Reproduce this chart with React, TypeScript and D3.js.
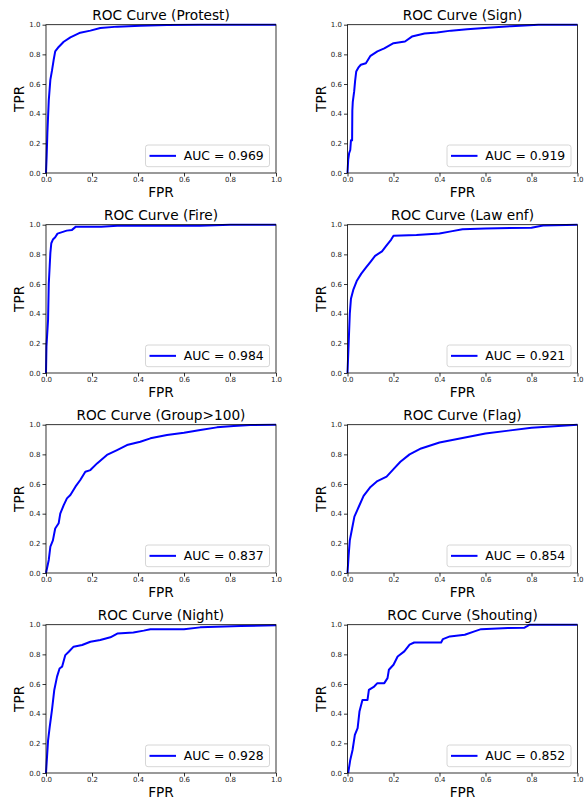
import React, { useEffect, useRef } from 'react';
import * as d3 from 'd3';

type Pt = [number, number];

const titles = ['Protest', 'Sign', 'Fire', 'Law enf', 'Group>100', 'Flag', 'Night', 'Shouting'];
const aucs = ['0.969', '0.919', '0.984', '0.921', '0.837', '0.854', '0.928', '0.852'];

const protest: Pt[] = [[0, 0], [0.003, 0.12], [0.006, 0.27], [0.012, 0.49], [0.019, 0.63], [0.026, 0.69], [0.033, 0.76],
  [0.04, 0.82], [0.055, 0.85], [0.077, 0.885], [0.106, 0.915], [0.149, 0.946], [0.193, 0.96], [0.236, 0.978],
  [0.31, 0.987], [0.41, 0.993], [0.526, 0.998], [0.67, 1], [1, 1]];
const sign: Pt[] = [[0, 0], [0.003, 0.088], [0.007, 0.133], [0.012, 0.155], [0.015, 0.22], [0.02, 0.22], [0.021, 0.42],
  [0.023, 0.48], [0.029, 0.55], [0.033, 0.62], [0.038, 0.685], [0.047, 0.71], [0.058, 0.73], [0.08, 0.74],
  [0.1, 0.79], [0.13, 0.82], [0.16, 0.84], [0.2, 0.875], [0.25, 0.887], [0.28, 0.92], [0.335, 0.94],
  [0.39, 0.948], [0.45, 0.96], [0.52, 0.97], [0.61, 0.98], [0.71, 0.99], [0.83, 1], [1, 1]];
const fire: Pt[] = [[0, 0], [0.002, 0.18], [0.009, 0.36], [0.012, 0.6], [0.016, 0.72], [0.019, 0.81], [0.023, 0.875],
  [0.03, 0.9], [0.04, 0.915], [0.05, 0.94], [0.07, 0.95], [0.09, 0.96], [0.113, 0.965], [0.13, 0.987],
  [0.24, 0.987], [0.31, 0.993], [0.67, 0.993], [0.8, 1], [1, 1]];
const lawEnf: Pt[] = [[0, 0], [0.005, 0.2], [0.01, 0.4], [0.015, 0.5], [0.025, 0.56], [0.04, 0.62], [0.06, 0.67],
  [0.08, 0.71], [0.1, 0.75], [0.12, 0.79], [0.15, 0.82], [0.17, 0.86], [0.19, 0.9], [0.2, 0.925], [0.3, 0.93],
  [0.4, 0.94], [0.45, 0.955], [0.5, 0.97], [0.6, 0.975], [0.8, 0.98], [0.85, 0.995], [1, 1]];
const group100: Pt[] = [[0, 0], [0.012, 0.088], [0.019, 0.178], [0.03, 0.22], [0.04, 0.3], [0.055, 0.335], [0.062, 0.4],
  [0.077, 0.458], [0.091, 0.503], [0.106, 0.526], [0.128, 0.582], [0.149, 0.627], [0.171, 0.683], [0.193, 0.694],
  [0.222, 0.739], [0.265, 0.796], [0.309, 0.829], [0.352, 0.863], [0.41, 0.885], [0.454, 0.908], [0.526, 0.93],
  [0.6, 0.946], [0.671, 0.964], [0.743, 0.982], [0.816, 0.991], [0.888, 0.998], [1, 1]];
const flag: Pt[] = [[0, 0], [0.005, 0.12], [0.01, 0.22], [0.02, 0.3], [0.03, 0.38], [0.05, 0.45], [0.07, 0.52],
  [0.1, 0.58], [0.13, 0.62], [0.17, 0.65], [0.2, 0.7], [0.23, 0.75], [0.27, 0.8], [0.32, 0.84], [0.4, 0.88],
  [0.5, 0.91], [0.6, 0.94], [0.7, 0.96], [0.8, 0.98], [0.9, 0.99], [1, 1]];
const night: Pt[] = [[0, 0], [0.009, 0.22], [0.016, 0.31], [0.026, 0.425], [0.036, 0.56], [0.048, 0.65], [0.059, 0.705],
  [0.07, 0.717], [0.084, 0.795], [0.099, 0.818], [0.12, 0.852], [0.157, 0.863], [0.193, 0.885], [0.236, 0.897],
  [0.28, 0.915], [0.31, 0.94], [0.38, 0.948], [0.425, 0.96], [0.454, 0.97], [0.6, 0.97], [0.67, 0.982],
  [0.845, 0.991], [1, 0.996]];
const shouting: Pt[] = [[0.003, 0], [0.012, 0.088], [0.022, 0.155], [0.032, 0.257], [0.044, 0.302], [0.052, 0.414],
  [0.065, 0.493], [0.087, 0.493], [0.093, 0.56], [0.116, 0.583], [0.13, 0.606], [0.16, 0.606], [0.174, 0.64],
  [0.18, 0.696], [0.2, 0.73], [0.218, 0.786], [0.247, 0.82], [0.27, 0.865], [0.29, 0.88], [0.407, 0.88],
  [0.415, 0.903], [0.445, 0.921], [0.51, 0.932], [0.552, 0.955], [0.581, 0.97], [0.698, 0.977], [0.77, 0.98],
  [0.792, 1], [1, 1]];

const curves = [protest, sign, fire, lawEnf, group100, flag, night, shouting];
const ticks = [0, 0.2, 0.4, 0.6, 0.8, 1.0];

export default function App() {
  const ref = useRef<SVGSVGElement>(null);

  useEffect(() => {
    const svg = d3.select(ref.current);
    svg.selectAll('*').remove();
    const font = 'DejaVu Sans, sans-serif';
    const w = 230, h = 148.3;
    const lefts = [46, 347.5];

    curves.forEach((data, i) => {
      const col = i % 2, row = Math.floor(i / 2);
      const left = lefts[col], top = 24.7 + row * 200;
      const x = d3.scaleLinear().domain([0, 1]).range([left, left + w]);
      const y = d3.scaleLinear().domain([0, 1]).range([top + h, top]);
      const g = svg.append('g');

      // curve
      g.append('path')
        .datum(data)
        .attr('fill', 'none')
        .attr('stroke', '#0000ff')
        .attr('stroke-width', 2)
        .attr('stroke-linejoin', 'round')
        .attr('d', d3.line<Pt>().x(d => x(d[0])).y(d => y(d[1])));

      // frame
      g.append('rect')
        .attr('x', left).attr('y', top).attr('width', w).attr('height', h)
        .attr('fill', 'none').attr('stroke', '#000').attr('stroke-width', 0.8);

      const xAxis = d3.axisBottom(x).tickValues(ticks).tickFormat(d3.format('.1f')).tickSize(3.5).tickSizeOuter(0);
      const yAxis = d3.axisLeft(y).tickValues(ticks).tickFormat(d3.format('.1f')).tickSize(3.5).tickSizeOuter(0);
      const gx = g.append('g').attr('transform', `translate(0,${top + h})`).call(xAxis);
      const gy = g.append('g').attr('transform', `translate(${left},0)`).call(yAxis);
      [gx, gy].forEach(a => {
        a.select('.domain').remove();
        a.selectAll('line').attr('stroke', '#000').attr('stroke-width', 0.8);
        a.selectAll('text').attr('font-family', font).attr('font-size', 7).attr('fill', '#222');
      });
      gx.selectAll('text').attr('dy', null).attr('y', 9.3);
      gy.selectAll('text').attr('x', -5.5);

      g.append('text')
        .attr('x', left + w / 2).attr('y', top - 4.4)
        .attr('text-anchor', 'middle')
        .attr('font-family', font).attr('font-size', 13.7)
        .text(`ROC Curve (${titles[i]})`);
      g.append('text')
        .attr('x', left + w / 2).attr('y', top + h + 23.5)
        .attr('text-anchor', 'middle')
        .attr('font-family', font).attr('font-size', 13.7)
        .text('FPR');
      g.append('text')
        .attr('transform', `translate(${left - 22},${top + h / 2}) rotate(-90)`)
        .attr('text-anchor', 'middle')
        .attr('font-family', font).attr('font-size', 13.7)
        .text('TPR');

      // legend
      const lw = 124, lh = 21.7;
      const lx = left + w - 6.5 - lw, ly = top + h - 6.3 - lh;
      g.append('rect')
        .attr('x', lx).attr('y', ly).attr('width', lw).attr('height', lh)
        .attr('rx', 2.5)
        .attr('fill', 'white').attr('fill-opacity', 0.8)
        .attr('stroke', '#cccccc').attr('stroke-width', 0.8);
      g.append('line')
        .attr('x1', lx + 4).attr('x2', lx + 30.5)
        .attr('y1', ly + lh / 2).attr('y2', ly + lh / 2)
        .attr('stroke', '#0000ff').attr('stroke-width', 2);
      g.append('text')
        .attr('x', lx + 38.3).attr('y', ly + lh / 2 + 4.5)
        .attr('font-family', font).attr('font-size', 12.4)
        .text(`AUC = ${aucs[i]}`);
    });
  }, []);

  return (
    <div style={{ position: 'absolute', left: 0, top: 0 }}>
      <svg ref={ref} width={585} height={800} style={{ display: 'block', background: 'white' }} />
    </div>
  );
}
